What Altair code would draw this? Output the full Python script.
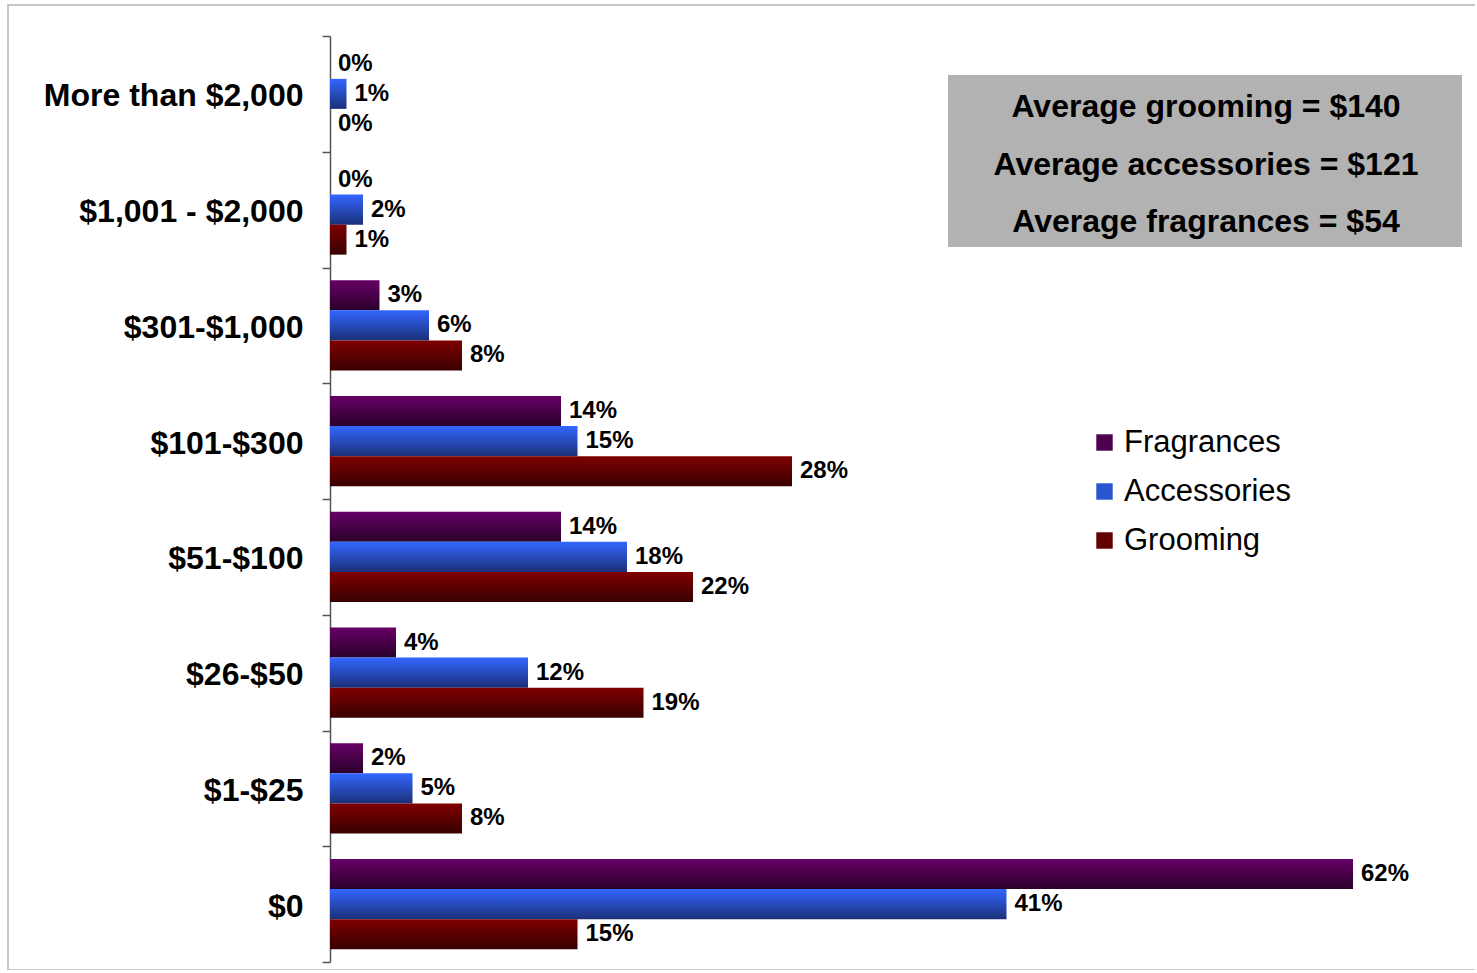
import altair as alt
import pandas as pd

categories = ["More than $2,000", "$1,001 - $2,000", "$301-$1,000", "$101-$300",
              "$51-$100", "$26-$50", "$1-$25", "$0"]
series = ["Fragrances", "Accessories", "Grooming"]
fragrances = [0, 0, 3, 14, 14, 4, 2, 62]
accessories = [1, 2, 6, 15, 18, 12, 5, 41]
grooming = [0, 1, 8, 28, 22, 19, 8, 15]
averages = ["Average grooming = $140", "Average accessories = $121", "Average fragrances = $54"]

rows = []
for s, vals in zip(series, [fragrances, accessories, grooming]):
    for c, v in zip(categories, vals):
        rows.append({"category": c, "series": s, "value": v, "label": f"{v}%"})
df = pd.DataFrame(rows)

top_colors = ["#660066", "#3366ff", "#800000"]
bottom_colors = ["#2a002a", "#1a3078", "#380000"]
legend_colors = ["#4d004d", "#2a55d0", "#640000"]

FONT = "Liberation Sans"
W, H = 1122, 926

xscale = alt.Scale(domain=[0, 68], nice=False, zero=True)
yscale = alt.Scale(domain=categories, paddingInner=0, paddingOuter=0)
yoff = alt.YOffset("series:N", scale=alt.Scale(domain=series, paddingInner=0, paddingOuter=0.429))
x_enc = alt.X("value:Q", scale=xscale, axis=None)
y_enc = alt.Y("category:N", scale=yscale, sort=categories,
              axis=alt.Axis(title=None, labelFontSize=32, labelFontWeight="bold",
                            labelColor="black", labelFont=FONT, labelPadding=19,
                            labelOffset=2,
                            tickBand="extent", tickSize=8, tickColor="#555555",
                            domainColor="#555555", tickWidth=1.5, domainWidth=1.5,
                            labelLimit=400))

base = alt.Chart(df)

one = pd.DataFrame({"a": [0]})
border = alt.Chart(one).mark_rect(fillOpacity=0, stroke="#c8c8c8", strokeWidth=2).encode(
    x=alt.value(-322), x2=alt.value(1146), y=alt.value(-31), y2=alt.value(934))

layers = [border]
for s, t, b in zip(series, top_colors, bottom_colors):
    grad = {"gradient": "linear", "x1": 0, "y1": 0, "x2": 0, "y2": 1,
            "stops": [{"offset": 0, "color": t}, {"offset": 1, "color": b}]}
    layers.append(base.transform_filter(alt.datum.series == s).mark_bar(color=grad).encode(
        x=x_enc, y=y_enc, yOffset=yoff))

legend_layer = base.mark_bar(opacity=0).encode(
    x=x_enc, y=y_enc, yOffset=yoff,
    color=alt.Color("series:N", scale=alt.Scale(domain=series, range=legend_colors),
                    legend=alt.Legend(title=None, orient="none", legendX=759, legendY=391,
                                      symbolType="square", symbolSize=270, symbolStrokeWidth=0,
                                      symbolOpacity=1, labelFontSize=31, labelFont=FONT,
                                      labelColor="black", rowPadding=17, labelOffset=4,
                                      labelLimit=400)))
layers.append(legend_layer)

labels = base.mark_text(align="left", baseline="middle", dx=8, fontSize=24,
                        fontWeight="bold", font=FONT, color="black").encode(
    x=x_enc, y=y_enc, yOffset=yoff, text="label:N")
layers.append(labels)

box = alt.Chart(one).mark_rect(fill="#b2b2b2").encode(
    x=alt.value(618), x2=alt.value(1132), y=alt.value(39), y2=alt.value(211))
layers.append(box)
for i, txt in enumerate(averages):
    layers.append(alt.Chart(one).mark_text(text=txt, align="center", baseline="middle",
                                           fontSize=32, fontWeight="bold", font=FONT,
                                           color="black").encode(
        x=alt.value(876), y=alt.value(71 + 57.5 * i)))

chart = alt.layer(*layers).properties(
    width=W, height=H,
    autosize=alt.AutoSizeParams(type="none"),
    padding={"left": 330, "top": 36, "right": 23, "bottom": 8},
).configure_view(stroke=None)

chart.save("out.html", embed_options={"renderer": "svg", "actions": False})
